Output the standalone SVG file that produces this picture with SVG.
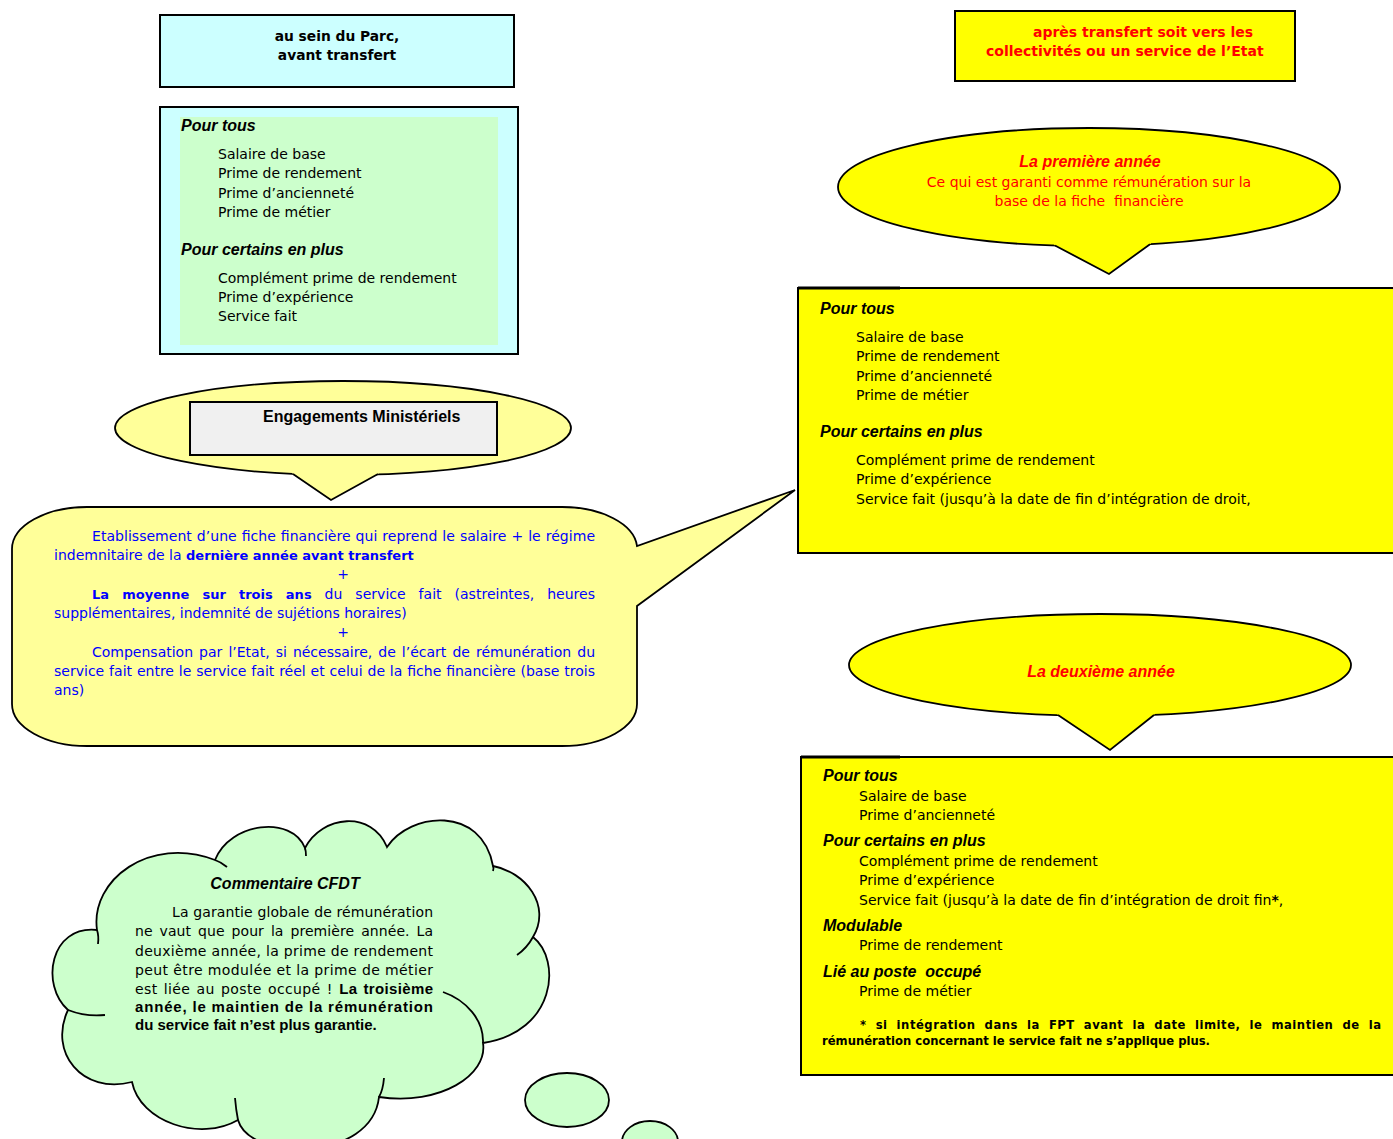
<svg xmlns="http://www.w3.org/2000/svg" width="1393" height="1139" viewBox="0 0 1393 1139">
<style>
.b{font-family:"DejaVu Sans",Verdana,sans-serif;font-size:14px;fill:#000}
.h{font-family:"Liberation Sans",Arial,sans-serif;font-size:16px;font-weight:bold;font-style:italic;fill:#000}
.tb{font-family:"DejaVu Sans",Verdana,sans-serif;font-weight:bold}
.ab{font-family:"Liberation Sans",Arial,sans-serif;font-weight:bold}
.blue{fill:#0000ff}
.red{fill:#ff0000}
.box{stroke:#000;stroke-width:2}
.ln{fill:none;stroke:#000;stroke-width:1.8}
.sh{stroke:#000;stroke-width:1.8}
.c{text-anchor:middle}
</style>
<rect width="1393" height="1139" fill="#ffffff"/>

<g id="connectors"></g>

<g id="title-left">
<rect class="box" x="160" y="15" width="354" height="72" fill="#ccffff"/>
<text class="tb c" x="337" y="41" font-size="13.8">au sein du Parc,</text>
<text class="tb c" x="337" y="60" font-size="13.8">avant transfert</text>
</g>

<g id="box-before">
<rect class="box" x="160" y="107" width="358" height="247" fill="#ccffff"/>
<rect x="180" y="117" width="318" height="228" fill="#ccffcc"/>
<text class="h" x="181" y="131">Pour tous</text>
<text class="b" x="218" y="159">Salaire de base</text>
<text class="b" x="218" y="178">Prime de rendement</text>
<text class="b" x="218" y="198">Prime d’ancienneté</text>
<text class="b" x="218" y="217">Prime de métier</text>
<text class="h" x="181" y="255">Pour certains en plus</text>
<text class="b" x="218" y="283">Complément prime de rendement</text>
<text class="b" x="218" y="302">Prime d’expérience</text>
<text class="b" x="218" y="321">Service fait</text>
</g>

<g id="engagements">
<ellipse class="sh" cx="343" cy="428" rx="228" ry="47" fill="#ffff99"/>
<polygon points="290,470 293,474 331,500 378,474 381,470" fill="#ffff99"/>
<polyline class="ln" points="293,474 331,500 378,474"/>
<rect x="190" y="402" width="307" height="53" fill="#f0f0f0" stroke="#000" stroke-width="2"/>
<text class="ab" x="263" y="422" font-size="16">Engagements Ministériels</text>
</g>

<g id="engagements-detail">
<path d="M87,507 L562,507 A75,42 0 0 1 637,546 L795,490 L637,606 L637,704 A75,42 0 0 1 562,746 L87,746 A75,42 0 0 1 12,704 L12,549 A75,42 0 0 1 87,507 Z" fill="#ffff99" stroke="#000" stroke-width="1.8" stroke-linejoin="miter"/>
<text class="b blue" x="92" y="541" textLength="503" lengthAdjust="spacing" word-spacing="0.5">Etablissement d’une fiche financière qui reprend le salaire + le régime</text>
<text class="b blue" x="54" y="560">indemnitaire de la <tspan class="tb" font-size="13">dernière année avant transfert</tspan></text>
<text class="b blue c" x="343" y="579">+</text>
<text class="b blue" x="92" y="599" word-spacing="8.5" textLength="503" lengthAdjust="spacing"><tspan class="tb" font-size="13">La moyenne sur trois ans</tspan> du service fait (astreintes, heures</text>
<text class="b blue" x="54" y="618">supplémentaires, indemnité de sujétions horaires)</text>
<text class="b blue c" x="343" y="637">+</text>
<text class="b blue" x="92" y="657" word-spacing="1.6" textLength="503" lengthAdjust="spacing">Compensation par l’Etat, si nécessaire, de l’écart de rémunération du</text>
<text class="b blue" x="54" y="676" word-spacing="0.4" textLength="541" lengthAdjust="spacing">service fait entre le service fait réel et celui de la fiche financière (base trois</text>
<text class="b blue" x="54" y="695">ans)</text>
</g>

<g id="title-right">
<rect class="box" x="955" y="11" width="340" height="70" fill="#ffff00"/>
<text class="tb red" x="1033" y="37" font-size="14">après transfert soit vers les</text>
<text class="tb red" x="986" y="56" font-size="14">collectivités ou un service de l’Etat</text>
</g>

<g id="first-year">
<ellipse class="sh" cx="1089" cy="187" rx="251" ry="59" fill="#ffff00"/>
<polygon points="1052,242 1055,245.5 1109,274 1150,244.2 1153,241" fill="#ffff00"/>
<polyline class="ln" points="1055,245.5 1109,274 1150,244.2"/>
<text class="h red c" x="1090" y="167" font-size="15">La première année</text>
<text class="b red c" x="1089" y="187">Ce qui est garanti comme rémunération sur la</text>
<text class="b red c" x="1089" y="206">base de la fiche&#160; financière</text>
</g>

<g id="box-first-year">
<rect class="box" x="798" y="288" width="600" height="265" fill="#ffff00"/>
<line x1="798" y1="288" x2="900" y2="288" stroke="#000" stroke-width="3"/>
<text class="h" x="820" y="314">Pour tous</text>
<text class="b" x="856" y="342">Salaire de base</text>
<text class="b" x="856" y="361">Prime de rendement</text>
<text class="b" x="856" y="381">Prime d’ancienneté</text>
<text class="b" x="856" y="400">Prime de métier</text>
<text class="h" x="820" y="437">Pour certains en plus</text>
<text class="b" x="856" y="465">Complément prime de rendement</text>
<text class="b" x="856" y="484">Prime d’expérience</text>
<text class="b" x="856" y="504">Service fait (jusqu’à la date de fin d’intégration de droit,</text>
</g>

<g id="second-year">
<ellipse class="sh" cx="1100" cy="665" rx="251" ry="51" fill="#ffff00"/>
<polygon points="1055,711 1058,715 1110,750 1154,715 1157,711" fill="#ffff00"/>
<polyline class="ln" points="1058,715 1110,750 1154,715"/>
<text class="h red c" x="1101" y="677" font-size="15">La deuxième année</text>
</g>

<g id="box-second-year">
<rect class="box" x="801" y="757" width="600" height="318" fill="#ffff00"/>
<line x1="801" y1="757" x2="900" y2="757" stroke="#000" stroke-width="3"/>
<text class="h" x="823" y="781">Pour tous</text>
<text class="b" x="859" y="801">Salaire de base</text>
<text class="b" x="859" y="820">Prime d’ancienneté</text>
<text class="h" x="823" y="846">Pour certains en plus</text>
<text class="b" x="859" y="866">Complément prime de rendement</text>
<text class="b" x="859" y="885">Prime d’expérience</text>
<text class="b" x="859" y="905">Service fait (jusqu’à la date de fin d’intégration de droit fin<tspan class="tb">*</tspan>,</text>
<text class="h" x="823" y="931">Modulable</text>
<text class="b" x="859" y="950">Prime de rendement</text>
<text class="h" x="823" y="977">Lié au poste&#160; occupé</text>
<text class="b" x="859" y="996">Prime de métier</text>
<text class="tb" x="860" y="1029" font-size="11.6" word-spacing="4.5" textLength="521" lengthAdjust="spacing">* si intégration dans la FPT avant la date limite, le maintien de la</text>
<text class="tb" x="822" y="1045" font-size="11.6">rémunération concernant le service fait ne s’applique plus.</text>
</g>

<g id="cfdt-comment">
<path d="M97,930 C90,880 150,835 215,860 C230,822 292,815 305,848 C322,815 372,810 387,847 C410,812 482,805 493,866 C525,872 552,905 533,937 C562,960 556,1032 483,1043 C488,1075 440,1106 379,1097 C372,1162 250,1162 238,1120 C200,1142 140,1122 132,1082 C82,1095 48,1052 68,1010 C40,985 50,925 97,930 Z" fill="#ccffcc" stroke="#000" stroke-width="1.8"/>
<path class="ln" d="M68,1010 Q86,1017 105,1015"/>
<path class="ln" d="M97,930 Q99,936 98,944"/>
<path class="ln" d="M215,860 Q221,862 227,867"/>
<path class="ln" d="M305,848 Q306,851 306,856"/>
<path class="ln" d="M493,866 Q494,868 493,871"/>
<path class="ln" d="M533,937 Q527,948 517,955"/>
<path class="ln" d="M443,992 C466,1000 484,1020 483,1043"/>
<path class="ln" d="M379,1097 Q383,1090 384,1078"/>
<path class="ln" d="M238,1120 Q236,1110 235,1098"/>
<text class="h c" x="285" y="889">Commentaire CFDT</text>
<text class="b" x="172" y="917" textLength="261" lengthAdjust="spacing">La garantie globale de rémunération</text>
<text class="b" x="135" y="936" word-spacing="2.4" textLength="298" lengthAdjust="spacing">ne vaut que pour la première année. La</text>
<text class="b" x="135" y="956" textLength="298" lengthAdjust="spacing">deuxième année, la prime de rendement</text>
<text class="b" x="135" y="975" textLength="298" lengthAdjust="spacing">peut être modulée et la prime de métier</text>
<text class="b" x="135" y="994" word-spacing="1.5" textLength="298" lengthAdjust="spacing">est liée au poste occupé ! <tspan class="ab" font-size="15">La troisième</tspan></text>
<text class="ab" x="135" y="1012" font-size="15" textLength="298" lengthAdjust="spacing">année, le maintien de la rémunération</text>
<text class="ab" x="135" y="1030" font-size="15">du service fait n’est plus garantie.</text>
<ellipse cx="567" cy="1100" rx="42" ry="27" fill="#ccffcc" stroke="#000" stroke-width="1.8"/>
<ellipse cx="650" cy="1142" rx="28" ry="21" fill="#ccffcc" stroke="#000" stroke-width="1.8"/>
</g>
</svg>
